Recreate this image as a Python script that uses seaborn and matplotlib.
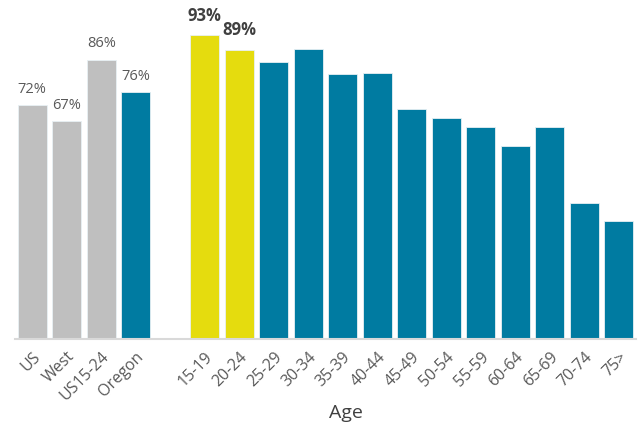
import matplotlib
matplotlib.use("Agg")
import matplotlib.pyplot as plt
import seaborn as sns
import pandas as pd

# values (percent)
groups = ["US", "West", "US15-24", "Oregon"]
group_values = [72, 67, 86, 76]
ages = ["15-19", "20-24", "25-29", "30-34", "35-39", "40-44", "45-49",
        "50-54", "55-59", "60-64", "65-69", "70-74", "75>"]
age_values = [93.4, 89, 85.2, 89.1, 81.6, 81.8, 70.7, 67.9, 65.3, 59.5, 65.1, 42, 36.4]

gray = "#BFBFBF"
teal = "#007BA1"
yellow = "#E5DC0E"
bar_colors = [gray, gray, gray, teal] + [yellow, yellow] + [teal] * 11

df = pd.DataFrame({
    "label": groups + ages,
    "value": group_values + age_values,
})
order = groups + [""] + ages
palette = dict(zip(df["label"], bar_colors))

sns.set_style("white")
plt.rcParams["font.family"] = ["Open Sans", "DejaVu Sans"]

fig = plt.figure(figsize=(6.44, 4.28), dpi=100)
ax = fig.add_axes([15 / 644, 89 / 428, 621 / 644, 325 / 428])

sns.barplot(data=df, x="label", y="value", order=order, hue="label",
            palette=palette, legend=False, width=0.83, saturation=1,
            edgecolor="#e8f0f4", linewidth=0.6, ax=ax)

ax.set_ylim(0, 100)
ax.set_xlim(-0.5, len(order) - 0.5)
ax.set_yticks([])
ax.set_ylabel("")
for side in ["top", "right", "left"]:
    ax.spines[side].set_visible(False)
ax.spines["bottom"].set_color("#D9D9D9")
ax.spines["bottom"].set_linewidth(1.5)

ax.tick_params(axis="x", length=0, pad=7)
ax.set_xticks(range(len(order)))
ax.set_xticklabels(order, rotation=45, ha="right", rotation_mode="anchor",
                   fontsize=11.5, color="#595959")

ax.set_xlabel("Age", fontsize=14, color="#404040")
ax.xaxis.set_label_coords(0.533, -0.2)

# value labels: plain for comparison groups, bold for youngest age bands
for i, v in enumerate(group_values):
    ax.text(i, v + 2.6, f"{v:.0f}%", ha="center", va="bottom",
            fontsize=10.5, color="#595959")
for i in range(2):
    ax.text(len(groups) + 1 + i, age_values[i] + 3.2, f"{age_values[i]:.0f}%",
            ha="center", va="bottom", fontsize=12, fontweight="bold",
            color="#404040", clip_on=False)

fig.savefig("out.png", dpi=100)
